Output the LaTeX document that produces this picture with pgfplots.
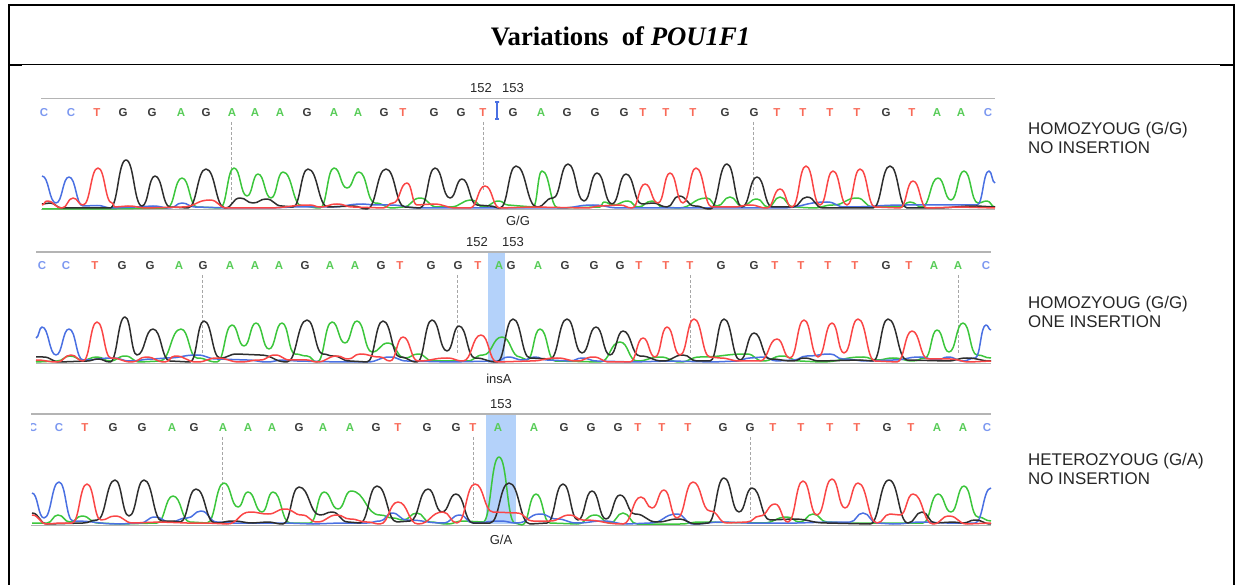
\documentclass[border=0pt]{standalone}
\usepackage{pgfplots}
\pgfplotsset{compat=1.18}
\usepackage{fontspec}
\setmainfont{Liberation Sans}
\newfontfamily\serifbf{Liberation Serif}

\definecolor{chA}{HTML}{3CC63C}
\definecolor{chC}{HTML}{4A70E2}
\definecolor{chG}{HTML}{2E2E2E}
\definecolor{chT}{HTML}{FA4646}
\definecolor{lbA}{HTML}{58CC58}
\definecolor{lbC}{HTML}{7C98F0}
\definecolor{lbG}{HTML}{3A3A3A}
\definecolor{lbT}{HTML}{F86A58}
\definecolor{band}{HTML}{B4D2FA}
\definecolor{rule}{HTML}{B4B4B4}

% trace points are peaks and valleys: join them with level tangents
\makeatletter
\newif\ifpeakfirst
\newdimen\peakx \newdimen\peaky
\newdimen\peakcx \newdimen\peakcy \newdimen\peakmx
\def\peakpoint#1{%
  \pgf@process{#1}%
  \peakcx=\pgf@x \peakcy=\pgf@y
  \ifpeakfirst
    \pgfpathmoveto{\pgfqpoint{\peakcx}{\peakcy}}%
    \global\peakfirstfalse
  \else
    \peakmx=\peakx \advance\peakmx by \peakcx \divide\peakmx by 2
    \pgfpathcurveto{\pgfqpoint{\peakmx}{\peaky}}{\pgfqpoint{\peakmx}{\peakcy}}{\pgfqpoint{\peakcx}{\peakcy}}%
  \fi
  \global\peakx=\peakcx \global\peaky=\peakcy
}
\pgfdeclareplothandler{\pgfplothandlerpeaks}{}{%
  start=\global\peakfirsttrue,
  point macro=\peakpoint,
  jump=\global\peakfirsttrue,
  end=\relax
}
\tikzset{peaks/.code={\let\tikz@plot@handler=\pgfplothandlerpeaks}}
\makeatother

% base call letters, one size for all
\newcommand{\bc}[3]{\node[text=lb#3,inner sep=0pt,yshift=-1pt,font=\fontsize{11.5}{12}\selectfont\bfseries] at (axis cs:#1,#2) {#3};}
\newcommand{\lab}[3]{\node[text=black!85,inner sep=0pt,yshift=-1pt,font=\fontsize{13}{14}\selectfont] at (axis cs:#1,#2) {#3};}

\begin{document}
\begin{tikzpicture}
\begin{axis}[
    scale only axis,
    width=1235pt, height=585pt,
    xmin=0, xmax=1235, ymin=0, ymax=585,
    y dir=reverse,
    axis lines=none,
    ch/.style={/tikz/peaks, line width=1.5pt, no marks, line join=round},
    guide/.style={no marks, draw=black!35, line width=0.8pt, densely dashed},
    frame/.style={no marks, draw=black},
]
% frame
\addplot[frame, line width=2pt] coordinates {(9,585) (9,5) (1233.5,5) (1233.5,585)};
\addplot[frame, line width=1.3pt] coordinates {(9,64.5) (1233.5,64.5)};
\addplot[frame, line width=2.2pt] coordinates {(9,65) (22,65)};
\addplot[frame, line width=2.2pt] coordinates {(1220,65) (1233.5,65)};

% highlighted columns
\addplot[fill=band, draw=none, no marks] coordinates {(488,252) (505,252) (505,363) (488,363)} -- cycle;
\addplot[fill=band, draw=none, no marks] coordinates {(486,414) (516,414) (516,524) (486,524)} -- cycle;

% top and bottom rules of the traces
\addplot[no marks, draw=rule, line width=1pt] coordinates {(41,99) (995,99)};
\addplot[no marks, draw=rule, line width=1pt] coordinates {(41,209.5) (995,209.5)};
\addplot[no marks, draw=rule, line width=1.2pt] coordinates {(36,252) (991,252)};
\addplot[no marks, draw=rule, line width=1pt] coordinates {(36,363.5) (991,363.5)};
\addplot[no marks, draw=rule, line width=1pt] coordinates {(31,414) (991,414)};
\addplot[no marks, draw=rule, line width=1pt] coordinates {(31,525) (991,525)};

% guides
\addplot[guide] coordinates {(231.5,122) (231.5,205)};
\addplot[guide] coordinates {(483,122) (483,192)};
\addplot[guide] coordinates {(753,122) (753,195)};
\addplot[guide] coordinates {(202,275) (202,355)};
\addplot[guide] coordinates {(457,275) (457,355)};
\addplot[guide] coordinates {(690,275) (690,355)};
\addplot[guide] coordinates {(958,275) (958,355)};
\addplot[guide] coordinates {(222,437) (222,520)};
\addplot[guide] coordinates {(473,437) (473,518)};
\addplot[guide] coordinates {(750,437) (750,518)};

% insertion cursor, first trace
\addplot[no marks, draw=chC, line width=1.4pt] coordinates {(495,102) (499,102) (497,102) (497,119) (495,119) (499,119)};

%% trace 1: G/G, no insertion
\addplot[ch, chA] coordinates {(42,209) (100,209) (167,208) (182,178) (197,207) (220,208) (234,168) (247,196) (258,174) (271,198) (283,172) (302,206) (320,208) (334,168) (347,188) (359,172) (375,203) (393,208) (403,207) (420,198) (437,207) (450,207) (472,200) (483,207) (499,201) (508,205) (520,206) (533,207) (542,171) (558,208) (600,207) (604,202) (613,205) (628,201) (638,207) (652,201) (663,207) (678,208) (707,198) (717,206) (730,197) (742,206) (757,199) (768,207) (780,197) (793,207) (813,208) (833,205) (857,198) (873,207) (890,207) (900,207) (910,202) (922,207) (938,178) (951,200) (964,171) (978,203) (987,201) (995,207)};
\addplot[ch, chC] coordinates {(42,176) (56,203) (69,177) (83,206) (97,205.5) (112,208) (135,207) (153,206) (170,208) (182,203) (195,207) (230,208) (270,208) (293,207) (330,207) (363,204) (375,205) (390,205) (420,208) (500,208) (560,208) (593,205) (620,208) (700,208) (780,208) (827,202) (845,207) (907,205) (933,205) (960,205) (977,205) (989,171) (995,183)};
\addplot[ch, chG] coordinates {(42,204) (50,203) (62,208) (90,208) (110,208) (126,160) (142,206) (155,176) (170,207) (188,208) (206,169) (225,208) (240,198) (253,203) (266,199) (282,206) (293,207) (308,169) (328,207) (353,206) (367,209) (386,169) (405,207) (420,208) (435,168) (450,198) (462,179) (477,205) (490,206) (500,208) (516,166) (537,207) (553,198) (568,164) (584,201) (597,173) (612,204) (626,174) (642,204) (653,203) (667,207) (679,196) (695,206) (710,209) (727,164) (742,207) (757,177) (772,207) (793,207) (807,197) (823,208) (873,208) (890,166) (907,208) (933,208) (977,206) (995,207)};
\addplot[ch, chT] coordinates {(42,205) (47,201) (62,208) (73,198) (83,205) (98,168) (112,203) (115,207) (128,206) (147,208) (182,207) (210,200) (227,208) (267,208) (310,205) (320,207) (337,204) (353,207) (383,208) (393,203) (407,183) (417,205) (433,204) (457,208) (470,208) (485,186) (500,208) (533,207) (587,208) (600,206) (620,205) (632,208) (645,184) (658,203) (670,173) (683,203) (696,168) (712,207) (733,207) (750,205) (767,208) (780,189) (792,207) (806,166) (820,205) (833,171) (847,205) (860,169) (875,207) (900,208) (913,181) (927,208) (960,207) (995,208)};

%% trace 2: G/G, one insertion
\addplot[ch, chA] coordinates {(36,362) (57,361) (70,356) (83,360) (97,357) (110,361) (125,356) (140,362) (160,361) (181,329) (197,358) (217,362) (232,325) (244,346) (256,323) (269,349) (282,323) (295,354) (307,356) (317,362) (332,322) (345,343) (357,321) (372,352) (388,343) (405,358) (418,354) (433,361) (467,361) (483,355) (502,337) (520,357) (527,360) (540,329) (555,361) (600,362) (620,342) (637,361) (660,357) (680,362) (700,357) (747,354) (763,361) (782,356) (800,361) (820,362) (863,357) (877,360) (893,358) (913,361) (925,358) (937,330) (949,352) (963,323) (977,355) (991,358)};
\addplot[ch, chC] coordinates {(36,338) (42,327) (56,355) (69,329) (83,360) (113,358) (130,361) (153,359) (167,358) (197,355) (217,359) (247,360) (267,362) (283,360) (297,361) (340,362) (367,362) (390,357) (407,361) (450,362) (497,361) (508,357) (523,360) (535,357) (547,360) (570,361) (582,358) (597,361) (633,362) (670,361) (713,362) (737,361) (750,358) (763,357) (777,361) (793,360) (807,356) (830,354) (843,359) (867,361) (893,360) (920,357) (937,360) (948,357) (963,361) (975,358) (986,325) (991,330)};
\addplot[ch, chG] coordinates {(36,357) (43,357) (60,362) (87,361) (98,359) (110,362) (125,317) (137,355) (153,329) (170,361) (190,362) (204,321) (220,358) (237,354) (260,355) (287,362) (307,320) (323,354) (333,356) (350,361) (367,362) (383,321) (400,357) (417,362) (432,320) (447,351) (459,326) (475,358) (497,362) (513,319) (530,358) (550,359) (567,319) (582,353) (596,327) (610,355) (623,331) (640,356) (663,361) (683,355) (697,361) (710,361) (724,319) (740,360) (754,333) (770,359) (793,361) (804,358) (820,361) (860,360) (873,361) (888,319) (907,360) (947,361) (967,358) (991,361)};
\addplot[ch, chT] coordinates {(36,360) (57,362) (71,355) (83,361) (97,322) (111,358) (132,362) (146,357) (165,362) (175,356) (197,362) (217,358) (240,362) (260,360) (275,355) (290,360) (307,360) (317,362) (337,356) (348,359) (360,354) (380,357) (390,361) (403,337) (418,361) (447,358) (463,361) (481,335) (497,362) (530,361) (557,358) (577,361) (593,357) (610,362) (630,362) (643,338) (655,357) (667,327) (680,355) (694,319) (710,357) (720,358) (740,361) (760,361) (777,339) (790,358) (804,320) (818,357) (832,323) (844,353) (858,319) (875,361) (897,362) (912,331) (928,359) (950,359) (970,362) (991,361)};

%% trace 3: G/A, no insertion
\addplot[ch, chA] coordinates {(32,523) (47,523) (58,515) (70,522) (82,516) (98,523) (120,524) (157,523) (173,496) (190,522) (207,523) (224,483) (238,507) (248,492) (262,512) (273,492) (290,523) (310,523) (324,492) (338,509) (351,491) (380,515) (393,518) (403,520) (417,513) (430,522) (447,524) (463,521) (483,522) (499,457) (515,523) (522,525) (536,494) (550,523) (577,524) (595,515) (610,523) (623,513) (637,524) (680,524) (700,522) (763,523) (787,517) (800,522) (813,514) (827,522) (847,523) (913,523) (923,523) (938,494) (951,512) (964,486) (978,517) (991,521)};
\addplot[ch, chC] coordinates {(32,493) (44,518) (59,482) (73,521) (120,524) (140,523) (155,517) (170,522) (187,518) (201,511) (217,522) (233,523) (287,523) (313,524) (340,523) (367,523) (380,521) (392,513) (407,520) (443,523) (460,515) (473,523) (500,521) (517,523) (540,514) (557,519) (577,523) (603,521) (627,524) (650,523) (677,514) (693,524) (723,522) (747,523) (797,523) (830,522) (850,522) (863,513) (877,523) (893,524) (923,522) (947,523) (975,523) (991,488)};
\addplot[ch, chG] coordinates {(32,513) (47,524) (83,523) (97,520) (115,480) (129,516) (144,480) (162,521) (173,521) (180,522) (196,489) (215,523) (233,521) (253,523) (267,522) (283,524) (299,487) (320,515) (332,512) (348,522) (360,523) (377,486) (397,522) (410,521) (428,489) (442,512) (456,494) (473,523) (490,523) (509,483) (530,524) (547,523) (563,484) (578,520) (592,491) (606,519) (620,495) (635,514) (657,522) (678,519) (697,524) (708,523) (724,478) (739,512) (752,488) (770,520) (793,519) (827,523) (870,524) (889,480) (908,523) (922,512) (935,523) (953,522) (963,523) (975,520) (991,524)};
\addplot[ch, chT] coordinates {(32,515) (47,524) (60,523) (72,523) (87,484) (101,520) (115,516) (133,523) (160,522) (187,523) (207,523) (227,524) (250,512) (268,514) (285,509) (302,515) (317,522) (337,515) (350,519) (367,522) (380,524) (398,502) (418,524) (443,512) (457,523) (475,484) (493,512) (517,513) (533,521) (550,521) (570,515) (583,520) (623,524) (641,497) (652,508) (664,490) (677,518) (693,482) (710,511) (727,523) (747,522) (760,516) (775,504) (788,522) (803,481) (817,515) (832,479) (845,508) (858,483) (877,523) (890,514) (900,515) (913,494) (933,524) (949,516) (967,524) (991,523)};

% base calls, trace 1
\bc{44}{112}{C}\bc{71}{112}{C}\bc{97}{112}{T}\bc{123}{112}{G}\bc{152}{112}{G}\bc{181}{112}{A}\bc{206}{112}{G}\bc{232}{112}{A}\bc{255}{112}{A}\bc{280}{112}{A}\bc{307}{112}{G}\bc{334}{112}{A}\bc{358}{112}{A}\bc{384}{112}{G}\bc{403}{112}{T}\bc{434}{112}{G}\bc{461}{112}{G}\bc{483}{112}{T}\bc{513}{112}{G}\bc{541}{112}{A}\bc{567}{112}{G}\bc{595}{112}{G}\bc{624}{112}{G}\bc{643}{112}{T}\bc{666}{112}{T}\bc{693}{112}{T}\bc{725}{112}{G}\bc{754}{112}{G}\bc{777}{112}{T}\bc{803}{112}{T}\bc{830}{112}{T}\bc{857}{112}{T}\bc{886}{112}{G}\bc{912}{112}{T}\bc{937}{112}{A}\bc{961}{112}{A}\bc{988}{112}{C}
% base calls, trace 2
\bc{42}{265}{C}\bc{66}{265}{C}\bc{95}{265}{T}\bc{122}{265}{G}\bc{150}{265}{G}\bc{179}{265}{A}\bc{203}{265}{G}\bc{230}{265}{A}\bc{255}{265}{A}\bc{279}{265}{A}\bc{305}{265}{G}\bc{330}{265}{A}\bc{355}{265}{A}\bc{381}{265}{G}\bc{400}{265}{T}\bc{431}{265}{G}\bc{458}{265}{G}\bc{478}{265}{T}\bc{499}{265}{A}\bc{511}{265}{G}\bc{538}{265}{A}\bc{565}{265}{G}\bc{594}{265}{G}\bc{620}{265}{G}\bc{639}{265}{T}\bc{666}{265}{T}\bc{690}{265}{T}\bc{721}{265}{G}\bc{754}{265}{G}\bc{775}{265}{T}\bc{801}{265}{T}\bc{828}{265}{T}\bc{855}{265}{T}\bc{886}{265}{G}\bc{909}{265}{T}\bc{934}{265}{A}\bc{958}{265}{A}\bc{986}{265}{C}
% base calls, trace 3
\bc{33}{427}{C}\bc{59}{427}{C}\bc{85}{427}{T}\bc{113}{427}{G}\bc{142}{427}{G}\bc{172}{427}{A}\bc{194}{427}{G}\bc{223}{427}{A}\bc{248}{427}{A}\bc{272}{427}{A}\bc{299}{427}{G}\bc{323}{427}{A}\bc{350}{427}{A}\bc{376}{427}{G}\bc{398}{427}{T}\bc{427}{427}{G}\bc{456}{427}{G}\bc{473}{427}{T}\bc{498}{427}{A}\bc{534}{427}{A}\bc{564}{427}{G}\bc{591}{427}{G}\bc{618}{427}{G}\bc{638}{427}{T}\bc{662}{427}{T}\bc{688}{427}{T}\bc{723}{427}{G}\bc{750}{427}{G}\bc{773}{427}{T}\bc{801}{427}{T}\bc{830}{427}{T}\bc{857}{427}{T}\bc{887}{427}{G}\bc{911}{427}{T}\bc{937}{427}{A}\bc{963}{427}{A}\bc{987}{427}{C}
\fill[white] (axis cs:24,420) rectangle (axis cs:31,434);

% positions and variant names
\lab{481}{87}{152}\lab{513}{87}{153}\lab{518}{220}{G/G}
\lab{477}{241}{152}\lab{513}{241}{153}\lab{499}{378}{insA}
\lab{501}{403}{153}\lab{501}{539}{G/A}

\node[inner sep=0pt,font=\fontsize{26.7}{28}\serifbf\bfseries] at (axis cs:620.5,36) {Variations\hspace{0.25em} of \textit{POU1F1}};

\node[anchor=west,text=black!85,inner sep=0pt,font=\fontsize{16.9}{18}\selectfont] at (axis cs:1028,130.5) {HOMOZYOUG (G/G)};
\node[anchor=west,text=black!85,inner sep=0pt,font=\fontsize{16.9}{18}\selectfont] at (axis cs:1028,148) {NO INSERTION};
\node[anchor=west,text=black!85,inner sep=0pt,font=\fontsize{16.9}{18}\selectfont] at (axis cs:1028,304.5) {HOMOZYOUG (G/G)};
\node[anchor=west,text=black!85,inner sep=0pt,font=\fontsize{16.9}{18}\selectfont] at (axis cs:1028,322) {ONE INSERTION};
\node[anchor=west,text=black!85,inner sep=0pt,font=\fontsize{16.9}{18}\selectfont] at (axis cs:1028,461.5) {HETEROZYOUG (G/A)};
\node[anchor=west,text=black!85,inner sep=0pt,font=\fontsize{16.9}{18}\selectfont] at (axis cs:1028,479) {NO INSERTION};
\end{axis}
% keep the page at the reference's size
\path (0,0) rectangle (1235pt,585pt);
\end{tikzpicture}
\end{document}
